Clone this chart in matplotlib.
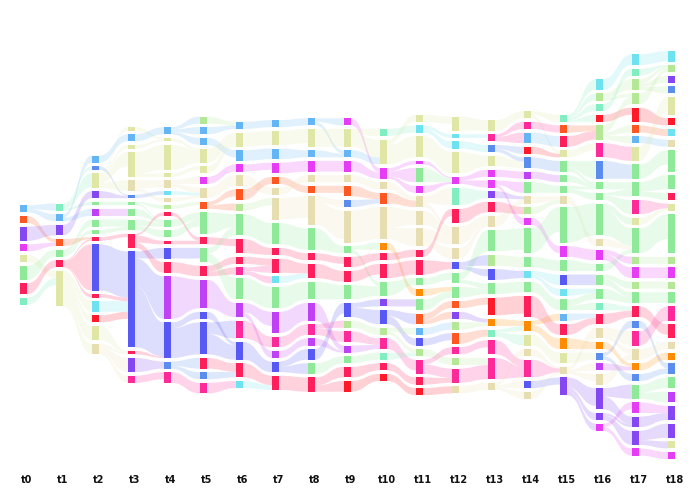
import matplotlib
matplotlib.use('Agg')
import matplotlib.pyplot as plt
from matplotlib.path import Path
from matplotlib.patches import PathPatch, Rectangle
import numpy as np

# ---- colour categories ----
PALETTE = {
    'sky': '#64b5f6', 'orr': '#ff5722', 'pur': '#8447f2', 'vmg': '#c040f5',
    'mag': '#e63cf5', 'kha': '#dfe6a6', 'tan': '#e6deb0', 'grn': '#8eea98',
    'lgr': '#b5e896', 'mnt': '#80eec0', 'cya': '#6ee2f0', 'cri': '#ff1f5a',
    'red': '#ff1a2a', 'pnk': '#ff2a9a', 'roy': '#5858f5', 'blu': '#5b8def',
    'org': '#ff8c00',
}

labels = [f"t{i}" for i in range(19)]

# ---- nodes per time step (top to bottom): (category, value) ----
t0 = [('sky', 2), ('orr', 2), ('pur', 4), ('mag', 2), ('kha', 2), ('grn', 4), ('cri', 3), ('mnt', 2)]
t1 = [('mnt', 2), ('sky', 2), ('pur', 3), ('orr', 2), ('grn', 2), ('cri', 2), ('kha', 10)]
t2 = [('sky', 2), ('blu', 1), ('kha', 4), ('pur', 2), ('grn', 1), ('vmg', 2), ('grn', 2), ('grn', 1),
      ('cri', 1), ('roy', 13), ('cri', 1), ('cya', 3), ('red', 2), ('kha', 4), ('tan', 3)]
t3 = [('kha', 1), ('sky', 2), ('kha', 1), ('kha', 7), ('tan', 3), ('blu', 1), ('grn', 1), ('grn', 2),
      ('grn', 3), ('cri', 4), ('roy', 27), ('cri', 1), ('pur', 4), ('pnk', 2)]
t4 = [('sky', 2), ('kha', 1), ('kha', 7), ('kha', 1), ('tan', 2), ('cya', 1), ('tan', 1), ('lgr', 1),
      ('cri', 1), ('grn', 2), ('grn', 2), ('cri', 1), ('roy', 3), ('cri', 3), ('vmg', 12), ('roy', 10),
      ('blu', 2), ('pnk', 3)]
t5 = [('lgr', 2), ('sky', 2), ('sky', 2), ('kha', 4), ('kha', 2), ('mag', 2), ('tan', 3), ('orr', 2),
      ('grn', 6), ('cri', 2), ('grn', 4), ('cri', 3), ('vmg', 8), ('roy', 2), ('roy', 9), ('cri', 3),
      ('blu', 2), ('pnk', 3)]
t6 = [('sky', 2), ('kha', 4), ('sky', 3), ('mag', 2), ('tan', 3), ('orr', 3), ('lgr', 2), ('grn', 6),
      ('cri', 4), ('cri', 2), ('pnk', 2), ('grn', 6), ('vmg', 4), ('pnk', 5), ('roy', 5), ('cri', 4),
      ('cya', 2)]
t7 = [('sky', 2), ('kha', 4), ('sky', 3), ('mag', 3), ('orr', 2), ('tan', 2), ('tan', 6), ('grn', 6),
      ('cri', 2), ('cri', 4), ('cya', 2), ('grn', 6), ('vmg', 6), ('pnk', 3), ('vmg', 2), ('roy', 3),
      ('cri', 4)]
t8 = [('sky', 2), ('kha', 5), ('sky', 2), ('mag', 3), ('tan', 2), ('orr', 2), ('tan', 8), ('grn', 6),
      ('cri', 2), ('cri', 4), ('grn', 5), ('vmg', 5), ('pnk', 3), ('vmg', 2), ('roy', 3), ('grn', 3),
      ('cri', 4)]
t9 = [('mag', 2), ('kha', 5), ('sky', 2), ('mag', 3), ('tan', 2), ('orr', 3), ('blu', 2), ('tan', 9),
      ('grn', 2), ('cri', 3), ('cri', 3), ('grn', 4), ('roy', 4), ('lgr', 2), ('pnk', 3), ('vmg', 2),
      ('grn', 2), ('cri', 3), ('red', 3)]
t10 = [('mnt', 2), ('kha', 7), ('mag', 3), ('tan', 2), ('orr', 3), ('tan', 9), ('org', 2), ('cri', 2),
       ('cri', 4), ('grn', 4), ('pur', 2), ('roy', 4), ('lgr', 2), ('pnk', 3), ('mnt', 2), ('cri', 2),
       ('red', 2)]
t11 = [('kha', 2), ('cya', 2), ('kha', 6), ('mag', 1), ('grn', 4), ('mag', 2), ('tan', 3), ('tan', 4),
       ('tan', 5), ('cri', 2), ('cri', 4), ('grn', 2), ('org', 2), ('grn', 3), ('orr', 3), ('sky', 2),
       ('roy', 2), ('lgr', 2), ('pnk', 4), ('cri', 2), ('red', 2)]
t12 = [('kha', 4), ('cya', 1), ('cya', 2), ('kha', 6), ('mag', 2), ('mnt', 5), ('cri', 4), ('tan', 5),
       ('tan', 3), ('roy', 2), ('grn', 3), ('grn', 3), ('orr', 2), ('pur', 2), ('lgr', 2), ('orr', 3),
       ('pnk', 2), ('lgr', 2), ('pnk', 4), ('tan', 2)]
t13 = [('kha', 3), ('pnk', 2), ('blu', 2), ('kha', 3), ('mag', 2), ('mag', 2), ('pur', 2), ('cri', 3),
       ('tan', 3), ('grn', 6), ('lgr', 3), ('roy', 3), ('grn', 3), ('red', 5), ('org', 2), ('mnt', 2),
       ('pnk', 4), ('pnk', 6), ('tan', 2)]
t14 = [('kha', 2), ('pnk', 2), ('sky', 3), ('red', 2), ('blu', 3), ('vmg', 2), ('grn', 3), ('tan', 2),
       ('lgr', 2), ('mag', 2), ('grn', 7), ('grn', 3), ('cya', 2), ('grn', 3), ('cri', 6), ('org', 3),
       ('kha', 3), ('tan', 2), ('pnk', 5), ('roy', 2), ('tan', 2)]
t15 = [('mnt', 2), ('orr', 2), ('cri', 3), ('kha', 2), ('grn', 3), ('grn', 2), ('grn', 2), ('tan', 2),
       ('grn', 10), ('mag', 3), ('grn', 3), ('roy', 3), ('cya', 2), ('grn', 3), ('sky', 2), ('cri', 3),
       ('org', 3), ('kha', 3), ('tan', 2), ('pur', 5)]
t16 = [('cya', 3), ('lgr', 2), ('mnt', 2), ('red', 2), ('lgr', 4), ('pnk', 4), ('blu', 5), ('grn', 2),
       ('grn', 2), ('grn', 9), ('tan', 2), ('mag', 3), ('grn', 2), ('grn', 3), ('grn', 3), ('mnt', 2),
       ('cri', 3), ('tan', 3), ('org', 2), ('blu', 2), ('vmg', 2), ('tan', 3), ('pur', 6), ('pur', 2),
       ('mag', 2)]
t17 = [('cya', 3), ('mnt', 2), ('lgr', 3), ('lgr', 3), ('red', 4), ('orr', 2), ('sky', 2), ('kha', 4),
       ('grn', 4), ('grn', 4), ('pnk', 4), ('kha', 2), ('grn', 7), ('lgr', 2), ('mag', 3), ('lgr', 2),
       ('grn', 3), ('cri', 3), ('blu', 2), ('pnk', 4), ('tan', 3), ('org', 2), ('blu', 2), ('grn', 4),
       ('mag', 3), ('pur', 3), ('pur', 4), ('mag', 2)]
t18 = [('cya', 3), ('lgr', 2), ('pur', 2), ('blu', 2), ('kha', 5), ('red', 2), ('cya', 2), ('tan', 2),
       ('grn', 6), ('grn', 4), ('cri', 2), ('kha', 2), ('grn', 11), ('lgr', 2), ('mag', 3), ('lgr', 2),
       ('grn', 3), ('pnk', 4), ('cri', 4), ('tan', 2), ('org', 2), ('blu', 3), ('grn', 3), ('vmg', 3),
       ('pur', 4), ('pur', 4), ('kha', 2), ('mag', 2)]

columns = [t0, t1, t2, t3, t4, t5, t6, t7, t8, t9, t10, t11, t12, t13, t14, t15, t16, t17, t18]

# ---- figure / coordinate system ----
W, H = 697, 491
PX = 3.55        # pixels per value unit
CY = 255         # vertical centre of the columns (px from top)
X0, DX = 23.5, 36
GAP = 1.0
NODE_W = 7 / DX
FLOW_ALPHA = 0.2
PEN = 12

fig = plt.figure(figsize=(W / 100, H / 100), dpi=100)
ax = fig.add_axes([0, 0, 1, 1])
ax.set_xlim(-X0 / DX, (W - X0) / DX)
ax.set_ylim((H - CY) / PX, -CY / PX)
ax.axis('off')

# ---- layout: stack each column, centred ----
layout = []
for col in columns:
    total = sum(v for _, v in col) + GAP * (len(col) - 1)
    y = -total / 2
    nodes = []
    for code, v in col:
        nodes.append((code, v, y))
        y += v + GAP
    layout.append(nodes)


def best(node, others):
    code, v, y = node
    yc = y + v / 2
    scores = [abs(yc - (o[2] + o[1] / 2)) + (0 if o[0] == code else PEN) for o in others]
    return int(np.argmin(scores))


def band(x0, x1, a0, a1, b0, b1, color):
    xm = (x0 + x1) / 2
    verts = [(x0, a0), (xm, a0), (xm, b0), (x1, b0), (x1, b1), (xm, b1), (xm, a1), (x0, a1), (x0, a0)]
    codes = [Path.MOVETO, Path.CURVE4, Path.CURVE4, Path.CURVE4, Path.LINETO,
             Path.CURVE4, Path.CURVE4, Path.CURVE4, Path.CLOSEPOLY]
    ax.add_patch(PathPatch(Path(verts, codes), facecolor=color, edgecolor='none',
                           alpha=FLOW_ALPHA, zorder=1))


for k in range(len(layout) - 1):
    A, B = layout[k], layout[k + 1]
    links = []
    hit = set()
    for i, a in enumerate(A):
        j = best(a, B)
        links.append([i, j, a[1]])
        hit.add(j)
    for j, b in enumerate(B):
        if j not in hit:
            i = best(b, A)
            links.append([i, j, b[1]])
    out, inn = {}, {}
    for i, j, v in links:
        out[i] = out.get(i, 0) + v
        inn[j] = inn.get(j, 0) + v
    src_pos, tgt_pos = {}, {}
    off = {}
    for idx in sorted(range(len(links)), key=lambda n: (links[n][0], B[links[n][1]][2])):
        i, j, v = links[idx]
        w = v * min(1.0, A[i][1] / out[i])
        s = A[i][2] + off.get(i, 0)
        src_pos[idx] = (s, s + w)
        off[i] = off.get(i, 0) + w
    off = {}
    for idx in sorted(range(len(links)), key=lambda n: (links[n][1], A[links[n][0]][2])):
        i, j, v = links[idx]
        w = v * min(1.0, B[j][1] / inn[j])
        s = B[j][2] + off.get(j, 0)
        tgt_pos[idx] = (s, s + w)
        off[j] = off.get(j, 0) + w
    for idx, (i, j, v) in enumerate(links):
        a0, a1 = src_pos[idx]
        b0, b1 = tgt_pos[idx]
        band(k + NODE_W / 2, k + 1 - NODE_W / 2, a0, a1, b0, b1, PALETTE[A[i][0]])

# ---- nodes ----
for k, nodes in enumerate(layout):
    for code, v, y in nodes:
        ax.add_patch(Rectangle((k - NODE_W / 2, y), NODE_W, v, facecolor=PALETTE[code],
                               edgecolor='none', zorder=3))
    ax.text(k + NODE_W / 2, (480 - CY) / PX, labels[k], ha='center', va='center',
            fontsize=7, fontweight='bold', color='#111111')

fig.savefig('out.png', dpi=100)
